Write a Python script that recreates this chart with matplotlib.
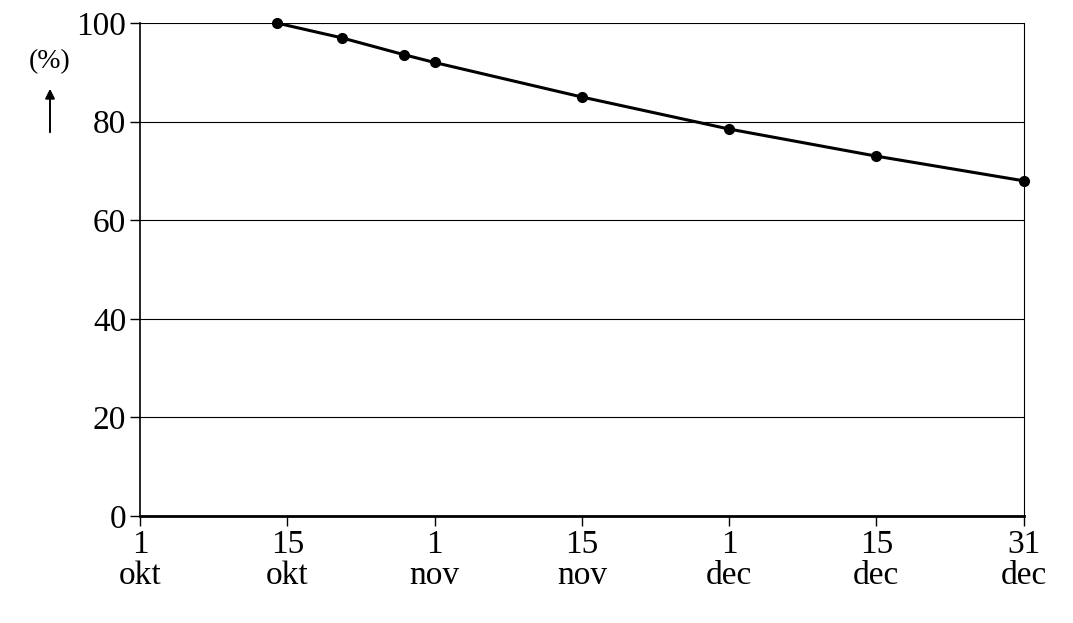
import matplotlib
matplotlib.use("Agg")
import matplotlib.pyplot as plt

tick_pos = [0, 1, 2, 3, 4, 5, 6]
tick_labels = ["1\nokt", "15\nokt", "1\nnov", "15\nnov", "1\ndec", "15\ndec", "31\ndec"]
x_vals = [0.93, 1.37, 1.79, 2.0, 3.0, 4.0, 5.0, 6.0]
y_vals = [100, 97, 93.6, 92, 85, 78.5, 73, 68]

plt.rcParams['font.family'] = ['Liberation Serif', 'DejaVu Serif']
fig = plt.figure(figsize=(10.73, 6.23), dpi=100)
ax = fig.add_axes([0.1305, 0.1717, 0.954 - 0.1305, 0.963 - 0.1717])
ax.set_xlim(0, 6)
ax.set_ylim(0, 100)
for y in [20, 40, 60, 80, 100]:
    ax.axhline(y, color='black', lw=0.8, zorder=1)
ax.plot(x_vals, y_vals, color='black', lw=2.2, marker='o', ms=7, zorder=3, clip_on=False)
ax.set_xticks(tick_pos)
ax.set_xticklabels(tick_labels, fontsize=24, linespacing=1.0)
ax.set_yticks([0, 20, 40, 60, 80, 100])
ax.tick_params(axis='both', direction='out', length=7, width=1, labelsize=24, pad=3)
ax.spines['top'].set_visible(False)
ax.spines['right'].set_linewidth(0.8)
ax.spines['left'].set_linewidth(1.2)
ax.spines['bottom'].set_linewidth(2)
fig.text(50 / 1073, 1 - 62 / 623, "(%)", fontsize=20, ha='center', va='center')
fig.add_artist(matplotlib.patches.FancyArrowPatch((50 / 1073, 1 - 135 / 623), (50 / 1073, 1 - 86 / 623),
               transform=fig.transFigure, arrowstyle='-|>', mutation_scale=14, color='black', lw=1.4))
fig.savefig("out.png", dpi=100)
